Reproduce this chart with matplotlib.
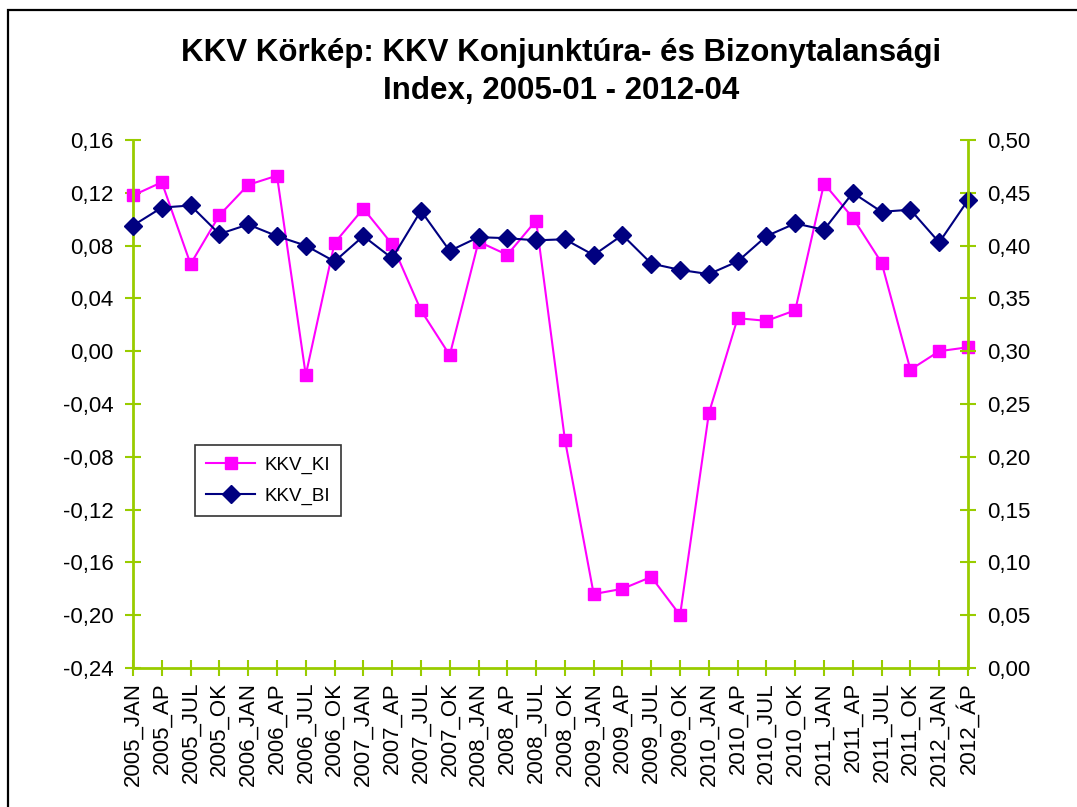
import matplotlib
matplotlib.use("Agg")
import matplotlib.pyplot as plt
import matplotlib.patches as patches
from matplotlib.ticker import FuncFormatter, MultipleLocator

plt.rcParams['font.family'] = ['Liberation Sans', 'DejaVu Sans']

# categories (quarters)
labels = ['2005_JAN', '2005_AP', '2005_JUL', '2005_OK',
          '2006_JAN', '2006_AP', '2006_JUL', '2006_OK',
          '2007_JAN', '2007_AP', '2007_JUL', '2007_OK',
          '2008_JAN', '2008_AP', '2008_JUL', '2008_OK',
          '2009_JAN', '2009_AP', '2009_JUL', '2009_OK',
          '2010_JAN', '2010_AP', '2010_JUL', '2010_OK',
          '2011_JAN', '2011_AP', '2011_JUL', '2011_OK',
          '2012_JAN', '2012_ÁP']

# konjunktúra index (left axis)
kkv_ki = [0.118, 0.128, 0.066, 0.103, 0.126, 0.133, -0.018, 0.082,
          0.108, 0.081, 0.031, -0.003, 0.083, 0.073, 0.099, -0.067,
          -0.184, -0.180, -0.171, -0.200, -0.047, 0.025, 0.023, 0.031,
          0.127, 0.101, 0.067, -0.014, 0.000, 0.003]

# bizonytalansági index (right axis)
kkv_bi = [0.419, 0.436, 0.438, 0.411, 0.420, 0.409, 0.400, 0.385,
          0.409, 0.388, 0.433, 0.395, 0.408, 0.407, 0.405, 0.406,
          0.391, 0.410, 0.383, 0.377, 0.373, 0.385, 0.409, 0.421,
          0.415, 0.450, 0.432, 0.434, 0.403, 0.443]

axis_col = '#99CC00'
pink = '#FF00FF'
navy = '#000080'


def comma_fmt(v, pos):
    s = f"{v:.2f}".replace('.', ',')
    if s == '-0,00':
        s = '0,00'
    return s


fig = plt.figure(figsize=(10.77, 8.07), dpi=100)
ax = fig.add_axes([133 / 1077, 1 - 668 / 807, (968 - 133) / 1077, (668 - 140) / 807])
ax2 = ax.twinx()

x = list(range(len(labels)))
l1, = ax.plot(x, kkv_ki, color=pink, lw=1.5, marker='s', ms=9,
              mfc=pink, mec=pink, label='KKV_KI', clip_on=False)
l2, = ax2.plot(x, kkv_bi, color=navy, lw=1.5, marker='D', ms=9,
               mfc=navy, mec=navy, label='KKV_BI', clip_on=False)

ax.set_xlim(0, len(labels) - 1)
ax.set_ylim(-0.24, 0.16)
ax2.set_ylim(0, 0.5)
ax.yaxis.set_major_locator(MultipleLocator(0.04))
ax2.yaxis.set_major_locator(MultipleLocator(0.05))
ax.yaxis.set_major_formatter(FuncFormatter(comma_fmt))
ax2.yaxis.set_major_formatter(FuncFormatter(comma_fmt))

ax.set_xticks(x)
ax.set_xticklabels(labels, rotation=90, fontsize=16)

for a in (ax, ax2):
    a.spines['top'].set_visible(False)
    for s in ('left', 'right', 'bottom'):
        a.spines[s].set_color(axis_col)
        a.spines[s].set_linewidth(2)
    a.tick_params(axis='both', direction='inout', length=12, width=1.5,
                  color=axis_col, labelsize=16, labelcolor='black')
ax.spines['right'].set_visible(False)
ax2.spines['left'].set_visible(False)
ax2.spines['bottom'].set_visible(False)
ax.tick_params(axis='y', pad=8)
ax2.tick_params(axis='y', pad=8)
ax.tick_params(axis='x', pad=4)

fig.text(0.521, 1 - 72 / 807, 'KKV Körkép: KKV Konjunktúra- és Bizonytalansági\nIndex, 2005-01 - 2012-04',
         ha='center', va='center', fontsize=22.5, fontweight='bold', linespacing=1.38)

leg = ax2.legend(handles=[l1, l2], loc='upper left',
                 bbox_to_anchor=(195 / 1077, 1 - 445 / 807), bbox_transform=fig.transFigure,
                 fontsize=13.5, frameon=True, fancybox=False, borderpad=0.6,
                 handlelength=2.6, handletextpad=0.5, labelspacing=0.75,
                 borderaxespad=0)
leg.get_frame().set_edgecolor('black')
leg.get_frame().set_linewidth(1.2)

# chart border
fig.patches.append(patches.Rectangle((8 / 1077, -0.05), 1.1, 1 - 10 / 807 + 0.05,
                                     transform=fig.transFigure, fill=False,
                                     edgecolor='black', linewidth=1.6))

fig.savefig('out.png', dpi=100)
